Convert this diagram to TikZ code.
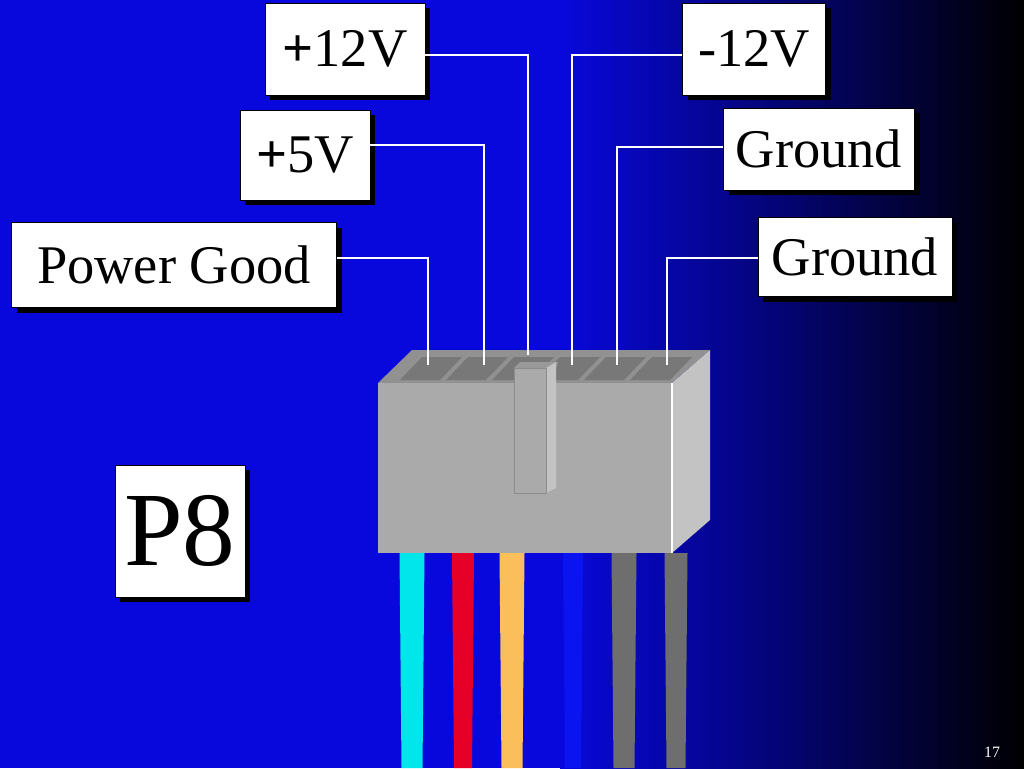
\documentclass[tikz,border=0pt]{standalone}
\usepackage{fontspec}
\setmainfont{Liberation Serif}
\definecolor{bgblue}{RGB}{8,8,220}
\definecolor{bodygray}{RGB}{170,170,170}
\definecolor{sidegray}{RGB}{195,195,195}
\definecolor{slotgray}{RGB}{120,120,120}
\definecolor{wirecyan}{RGB}{0,230,235}
\definecolor{wirered}{RGB}{230,0,40}
\definecolor{wireorange}{RGB}{250,190,90}
\definecolor{wireblue}{RGB}{10,20,240}
\definecolor{wiregray}{RGB}{110,110,110}
\tikzset{
  labelbox/.style={draw=black, fill=white, inner sep=0pt, font=\fontsize{31}{36}\selectfont,
    drop shadow={shadow xshift=3pt, shadow yshift=-3pt, fill=black, opacity=1}},
  lead/.style={draw=white, line width=1.3pt}
}
\usetikzlibrary{shadows}
\begin{document}
\begin{tikzpicture}[x=0.02cm, y=-0.02cm]
  \useasboundingbox (0,0) rectangle (1024,768);
  % Background
  \fill[bgblue] (0,0) rectangle (570,768);
  \shade[left color=bgblue, right color=black] (560,0) rectangle (1024,768);

  % Labels
  \node[labelbox, minimum width=160*0.02cm, minimum height=92*0.02cm] (p12) at (345,49) {\textbf{+}12V};
  \node[labelbox, minimum width=143*0.02cm, minimum height=92*0.02cm] (m12) at (754,49) {-12V};
  \node[labelbox, minimum width=130*0.02cm, minimum height=90*0.02cm] (p5) at (305,155) {\textbf{+}5V};
  \node[labelbox, minimum width=191*0.02cm, minimum height=82*0.02cm] (gnda) at (819,149) {Ground};
  \node[labelbox, minimum width=194*0.02cm, minimum height=79*0.02cm] (gndb) at (855,257) {Ground};
  \node[labelbox, minimum width=325*0.02cm, minimum height=85*0.02cm] (pg) at (174,265) {Power Good};
  \node[labelbox, minimum width=130*0.02cm, minimum height=132*0.02cm,
        font=\fontsize{60}{66}\selectfont] (p8) at (180,531) {P8};

  % Wires below the housing
  \foreach \x/\w/\c in {412/25/wirecyan, 463/22/wirered, 512/25/wireorange,
                        573/20/wireblue, 624/25/wiregray, 676/23/wiregray}
    \fill[\c] (\x-\w/2,553) -- (\x+\w/2,553) -- (\x+\w/2-2,768) -- (\x-\w/2+2,768) -- cycle;

  % Housing
  \fill[bodygray!85!black] (378,383) -- (412,350) -- (710,350) -- (672,383) -- cycle;
  \foreach \i in {0,...,5}
    \fill[slotgray] (400+\i*46,380) -- (422+\i*46,357) -- (462+\i*46,357) -- (440+\i*46,380) -- cycle;
  \fill[sidegray] (672,383) -- (710,350) -- (710,520) -- (672,553) -- cycle;
  \fill[bodygray] (378,383) rectangle (672,553);
  \draw[white, line width=0.8pt] (672,383) -- (672,553);
  % Latch
  \fill[bodygray!90!black] (514,368) -- (520,362) -- (558,362) -- (556,368) -- cycle;
  \fill[sidegray] (546,368) -- (556,362) -- (556,488) -- (546,493) -- cycle;
  \draw[black!45, fill=bodygray] (514,368) rectangle (546,493);

  % Leads
  \coordinate (tpg) at (428,365);  \coordinate (tp5) at (484,365);
  \coordinate (tp12) at (528,355); \coordinate (tm12) at (572,365);
  \coordinate (tga) at (617,365);  \coordinate (tgb) at (667,365);
  \draw[lead] (pg.east |- 0,258) -| (tpg);
  \draw[lead] (p5.east |- 0,145) -| (tp5);
  \draw[lead] (p12.east |- 0,55) -| (tp12);
  \draw[lead] (m12.west |- 0,55) -| (tm12);
  \draw[lead] (gnda.west |- 0,147) -| (tga);
  \draw[lead] (gndb.west |- 0,258) -| (tgb);

  % Page number
  \node[white, font=\fontsize{9}{10}\selectfont] (page) at (992,752) {17};
\end{tikzpicture}
\end{document}
